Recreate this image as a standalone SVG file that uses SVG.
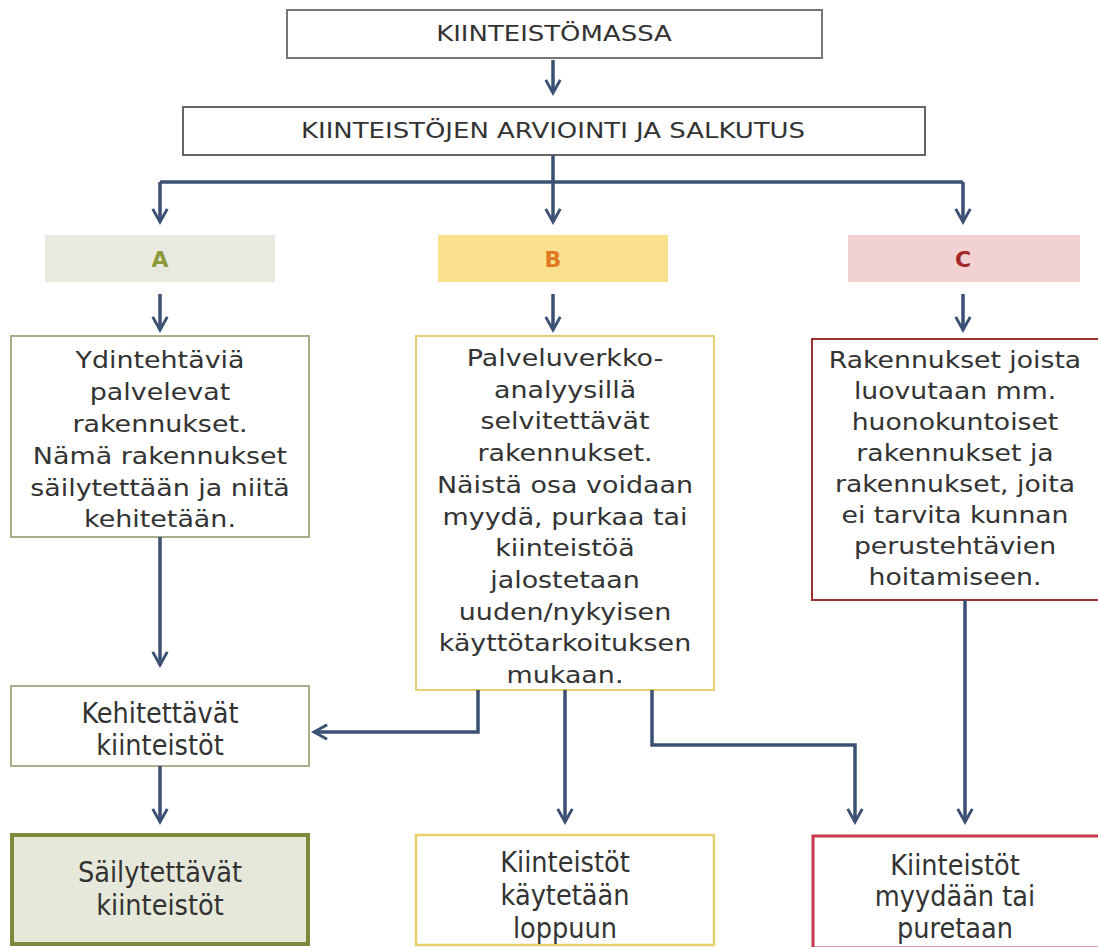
<svg xmlns="http://www.w3.org/2000/svg" width="1098" height="947" viewBox="0 0 1098 947">
<style>
text{font-family:"DejaVu Sans",Verdana,sans-serif;fill:#333;text-anchor:middle;dominant-baseline:central}
.t{font-size:22px}
.b{font-size:23px}
.n{font-family:"DejaVu Sans Condensed","DejaVu Sans",sans-serif;font-size:28.5px}
.lbl{font-size:22px;font-weight:bold}
.c{fill:none;stroke:#3b5174;stroke-width:3.5}
</style>
<defs>
<marker id="ah" viewBox="0 0 12 12" refX="10" refY="6" markerWidth="5" markerHeight="5" orient="auto" markerUnits="strokeWidth">
<path d="M1,1 L10,6 L1,11" fill="none" stroke="#3b5174" stroke-width="2"/>
</marker>
</defs>
<rect width="1098" height="947" fill="#fff"/>
<g id="n1"><rect x="287" y="10" width="535" height="48" fill="#fff" stroke="#777" stroke-width="2"/><g transform="translate(554,0) scale(1.18,1)"><text class="t" x="0" y="34">KIINTEISTÖMASSA</text></g></g>
<g id="n2"><rect x="183" y="107" width="742" height="48" fill="#fff" stroke="#666" stroke-width="2"/><g transform="translate(553,0) scale(1.18,1)"><text class="t" x="0" y="131">KIINTEISTÖJEN ARVIOINTI JA SALKUTUS</text></g></g>
<g id="A"><rect x="45" y="235" width="230" height="47" fill="#e9eadf"/><text class="lbl" x="160" y="259" style="fill:#8c9a3c">A</text></g>
<g id="B"><rect x="438" y="235" width="230" height="47" fill="#f9e08d"/><text class="lbl" x="553" y="259" style="fill:#e07a22">B</text></g>
<g id="C"><rect x="848" y="235" width="232" height="47" fill="#f2d1d2"/><text class="lbl" x="963" y="259" style="fill:#a02828">C</text></g>
<g id="An"><rect x="11" y="336" width="298" height="201" fill="#fff" stroke="#a9ad8a" stroke-width="2"/>
<g transform="translate(160,0) scale(1.17,1)"><text class="b" x="0" y="360">Ydintehtäviä</text><text class="b" x="0" y="392">palvelevat</text><text class="b" x="0" y="424">rakennukset.</text><text class="b" x="0" y="456">Nämä rakennukset</text><text class="b" x="0" y="488">säilytettään ja niitä</text><text class="b" x="0" y="519">kehitetään.</text></g></g>
<g id="Bn"><rect x="416" y="336" width="298" height="354" fill="#fff" stroke="#e8cf6e" stroke-width="2"/>
<g transform="translate(565,0) scale(1.17,1)"><text class="b" x="0" y="358">Palveluverkko-</text><text class="b" x="0" y="390">analyysillä</text><text class="b" x="0" y="421">selvitettävät</text><text class="b" x="0" y="453">rakennukset.</text><text class="b" x="0" y="485">Näistä osa voidaan</text><text class="b" x="0" y="517">myydä, purkaa tai</text><text class="b" x="0" y="548">kiinteistöä</text><text class="b" x="0" y="580">jalostetaan</text><text class="b" x="0" y="612">uuden/nykyisen</text><text class="b" x="0" y="643">käyttötarkoituksen</text><text class="b" x="0" y="675">mukaan.</text></g></g>
<g id="Cn"><rect x="812" y="339" width="290" height="261" fill="#fff" stroke="#9b3232" stroke-width="2"/>
<g transform="translate(955,0) scale(1.16,1)"><text class="b" x="0" y="360">Rakennukset joista</text><text class="b" x="0" y="391">luovutaan mm.</text><text class="b" x="0" y="422">huonokuntoiset</text><text class="b" x="0" y="453">rakennukset ja</text><text class="b" x="0" y="484">rakennukset, joita</text><text class="b" x="0" y="515">ei tarvita kunnan</text><text class="b" x="0" y="546">perustehtävien</text><text class="b" x="0" y="577">hoitamiseen.</text></g></g>
<g id="K"><rect x="11" y="686" width="298" height="80" fill="#fff" stroke="#a9ad8a" stroke-width="2"/><text class="n" x="160" y="713">Kehitettävät</text><text class="n" x="160" y="745">kiinteistöt</text></g>
<g id="S"><rect x="12" y="835" width="296" height="109" fill="#e6e8da" stroke="#7d8a3e" stroke-width="4"/><text class="n" x="160" y="872">Säilytettävät</text><text class="n" x="160" y="905">kiinteistöt</text></g>
<g id="L"><rect x="416" y="835" width="298" height="110" fill="#fff" stroke="#e8cf6e" stroke-width="2.5"/><text class="n" x="565" y="862">Kiinteistöt</text><text class="n" x="565" y="895">käytetään</text><text class="n" x="565" y="928">loppuun</text></g>
<g id="M"><rect x="813" y="836" width="290" height="112" fill="#fff" stroke="#c8384a" stroke-width="3"/><text class="n" x="955" y="865">Kiinteistöt</text><text class="n" x="955" y="896">myydään tai</text><text class="n" x="955" y="928">puretaan</text></g>
<g id="connectors">
<path class="c" d="M553,60 V93" marker-end="url(#ah)"/>
<path class="c" d="M553,155 V182 M160,182 H963"/>
<path class="c" d="M160,182 V222" marker-end="url(#ah)"/>
<path class="c" d="M553,182 V222" marker-end="url(#ah)"/>
<path class="c" d="M963,182 V222" marker-end="url(#ah)"/>
<path class="c" d="M160,294 V330" marker-end="url(#ah)"/>
<path class="c" d="M553,294 V330" marker-end="url(#ah)"/>
<path class="c" d="M963,294 V330" marker-end="url(#ah)"/>
<path class="c" d="M160,537 V665" marker-end="url(#ah)"/>
<path class="c" d="M478,690 V732 H314" marker-end="url(#ah)"/>
<path class="c" d="M565,690 V822" marker-end="url(#ah)"/>
<path class="c" d="M652,690 V745 H855 V822" marker-end="url(#ah)"/>
<path class="c" d="M965,600 V822" marker-end="url(#ah)"/>
<path class="c" d="M160,766 V822" marker-end="url(#ah)"/>
</g>
</svg>
